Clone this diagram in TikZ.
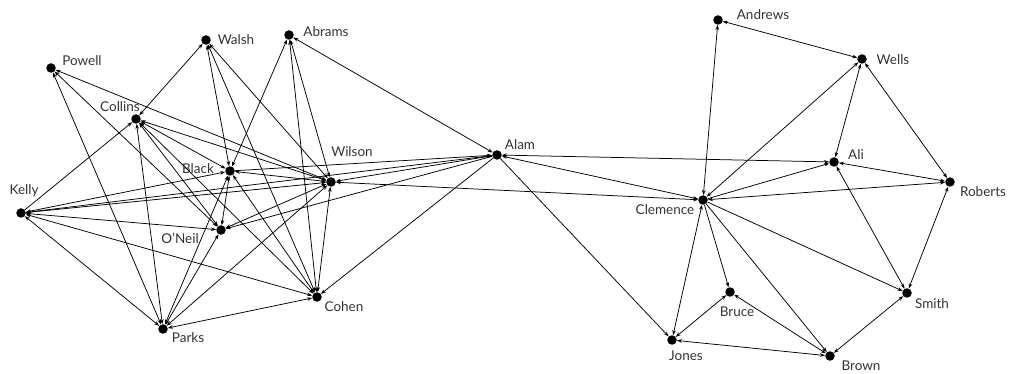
\documentclass[tikz,border=0pt]{standalone}
\usepackage{fontspec}
\setmainfont{Lato}
\usetikzlibrary{arrows.meta,positioning}

\begin{document}
\begin{tikzpicture}[x=1pt, y=-1pt,
  every node/.style={font=\fontsize{13.5}{15}\selectfont},
  actor/.style={circle, fill=black, inner sep=0pt, minimum size=9.5pt},
  tag/.style={text=black!80, inner sep=0pt},
  one/.style={-{Stealth[length=5pt,width=3.6pt]}, line width=0.75pt},
  two/.style={{Stealth[length=5pt,width=3.6pt]}-{Stealth[length=5pt,width=3.6pt]}, line width=0.75pt},
]
\useasboundingbox (0,0) rectangle (1009,374);

% left group
\node[actor] (powell)  at (51,68)   {};
\node[actor] (walsh)   at (206,40)  {};
\node[actor] (abrams)  at (289,35)  {};
\node[actor] (collins) at (136,119) {};
\node[actor] (black)   at (230,171) {};
\node[actor] (wilson)  at (331,182) {};
\node[actor] (kelly)   at (21,213)  {};
\node[actor] (oneil)   at (221,230) {};
\node[actor] (cohen)   at (317,297) {};
\node[actor] (parks)   at (163,329) {};
\node[actor] (alam)    at (497,155) {};

% right group
\node[actor] (andrews)  at (718,20)  {};
\node[actor] (wells)    at (862,59)  {};
\node[actor] (ali)      at (834,162) {};
\node[actor] (roberts)  at (950,182) {};
\node[actor] (clemence) at (703,200) {};
\node[actor] (smith)    at (907,293) {};
\node[actor] (bruce)    at (730,292) {};
\node[actor] (jones)    at (672,340) {};
\node[actor] (brown)    at (830,356) {};

% names
\node[tag] (powell-n)   at (82,61)   {Powell};
\node[tag] (walsh-n)    at (236,40)  {Walsh};
\node[tag] (abrams-n)   at (326,32)  {Abrams};
\node[tag] (collins-n)  at (120,107) {Collins};
\node[tag] (black-n)    at (198,169) {Black};
\node[tag] (wilson-n)   at (352,152) {Wilson};
\node[tag] (kelly-n)    at (24,191)  {Kelly};
\node[tag] (oneil-n)    at (180,238) {O'Neil};
\node[tag] (cohen-n)    at (344,307) {Cohen};
\node[tag] (parks-n)    at (188,338) {Parks};
\node[tag] (alam-n)     at (520,145) {Alam};
\node[tag] (andrews-n)  at (763,15)  {Andrews};
\node[tag] (wells-n)    at (893,60)  {Wells};
\node[tag] (ali-n)      at (856,155) {Ali};
\node[tag] (roberts-n)  at (983,192) {Roberts};
\node[tag] (clemence-n) at (665,210) {Clemence};
\node[tag] (smith-n)    at (932,304) {Smith};
\node[tag] (bruce-n)    at (737,312) {Bruce};
\node[tag] (jones-n)    at (686,356) {Jones};
\node[tag] (brown-n)    at (861,366) {Brown};

% ties, left group
\draw[two] (powell) -- (wilson);
\draw[two] (powell) -- (oneil);
\draw[two] (powell) -- (parks);
\draw[two] (walsh) -- (collins);
\draw[two] (walsh) -- (black);
\draw[two] (walsh) -- (cohen);
\draw[two] (walsh) -- (wilson);
\draw[two] (abrams) -- (black);
\draw[two] (abrams) -- (cohen);
\draw[two] (abrams) -- (wilson);
\draw[two] (abrams) -- (alam);
\draw[one] (kelly) -- (collins);
\draw[two] (collins) -- (black);
\draw[two] (collins) -- (oneil);
\draw[two] (collins) -- (cohen);
\draw[two] (collins) -- (parks);
\draw[two] (collins) -- (wilson);
\draw[two] (kelly) -- (black);
\draw[two] (kelly) -- (wilson);
\draw[two] (kelly) -- (oneil);
\draw[two] (kelly) -- (cohen);
\draw[two] (kelly) -- (parks);
\draw[one] (kelly) -- (alam);
\draw[two] (black) -- (wilson);
\draw[two] (black) -- (oneil);
\draw[two] (black) -- (cohen);
\draw[two] (black) -- (parks);
\draw[one] (black) -- (alam);
\draw[two] (wilson) -- (oneil);
\draw[two] (wilson) -- (cohen);
\draw[two] (wilson) -- (parks);
\draw[two] (wilson) -- (alam);
\draw[two] (wilson) -- (clemence);
\draw[two] (oneil) -- (parks);
\draw[one] (alam) -- (oneil);
\draw[two] (cohen) -- (parks);
\draw[one] (alam) -- (cohen);

% ties, right group
\draw[two] (andrews) -- (wells);
\draw[two] (andrews) -- (clemence);
\draw[two] (wells) -- (clemence);
\draw[two] (wells) -- (ali);
\draw[two] (wells) -- (roberts);
\draw[two] (ali) -- (roberts);
\draw[one] (clemence) -- (ali);
\draw[two] (alam) -- (ali);
\draw[two] (alam) -- (clemence);
\draw[two] (ali) -- (smith);
\draw[two] (clemence) -- (roberts);
\draw[two] (roberts) -- (smith);
\draw[one] (clemence) -- (smith);
\draw[two] (smith) -- (brown);
\draw[one] (clemence) -- (brown);
\draw[one] (clemence) -- (bruce);
\draw[two] (bruce) -- (brown);
\draw[two] (bruce) -- (jones);
\draw[two] (jones) -- (brown);
\draw[two] (clemence) -- (jones);
\draw[one] (alam) -- (jones);
\end{tikzpicture}
\end{document}
